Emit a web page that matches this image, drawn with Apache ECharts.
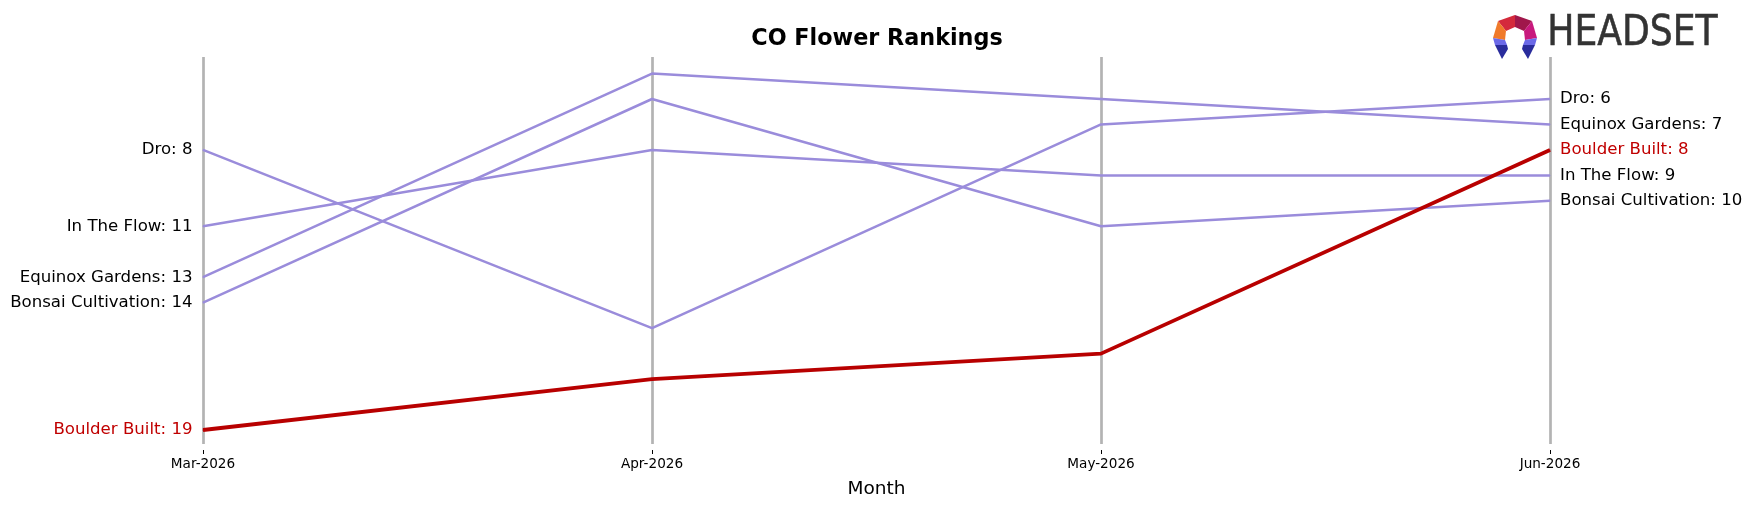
<!DOCTYPE html>
<html>
<head>
<meta charset="utf-8">
<script src="https://cdn.jsdelivr.net/npm/echarts@6/dist/echarts.min.js"></script>
<style>
  html, body { margin: 0; padding: 0; background: #fff; }
  #chart { width: 1753px; height: 507px; }
</style>
</head>
<body>
<div id="chart"></div>
<script>
// months on the x axis
var months = ["Mar-2026", "Apr-2026", "May-2026", "Jun-2026"];

// rank per month (1 = best)
var dro = [8, 15, 7, 6];
var inTheFlow = [11, 8, 9, 9];
var equinoxGardens = [13, 5, 6, 7];
var bonsaiCultivation = [14, 6, 11, 10];
var boulderBuilt = [19, 17, 16, 8];

var purple = "#9a8cdb";
var red = "#b80000";
var labelFont = "DejaVu Sans";

// one line per brand, name + rank printed on both ends
function makeSeries(name, values, lineColor, textColor, width, z) {
  var last = values[values.length - 1];
  return {
    name: name,
    type: "line",
    z: z,
    symbol: "circle",
    symbolSize: 1,
    itemStyle: { color: lineColor },
    lineStyle: { color: lineColor, width: width },
    data: values.map(function (v, i) {
      if (i === 0) {
        return {
          value: v,
          label: {
            show: true,
            position: "left",
            distance: 10,
            formatter: name + ": " + v,
            color: textColor,
            fontFamily: labelFont,
            fontSize: 16.6,
          },
        };
      }
      return v;
    }),
    endLabel: {
      show: true,
      distance: 10,
      formatter: name + ": " + last,
      color: textColor,
      fontFamily: labelFont,
      fontSize: 16.6,
    },
  };
}

var chart = echarts.init(document.getElementById("chart"), null, { renderer: "canvas" });

var option = {
  animation: false,
  backgroundColor: "#fff",
  title: {
    text: "CO Flower Rankings",
    left: 872,
    top: 23,
    textAlign: "center",
    textStyle: {
      fontFamily: labelFont,
      fontWeight: "bold",
      fontSize: 22.3,
      color: "#000",
    },
  },
  grid: {
    left: 203,
    right: 203,
    top: 57,
    bottom: 63,
    outerBoundsMode: "none",
    containLabel: false,
  },
  xAxis: {
    type: "category",
    data: months,
    boundaryGap: false,
    offset: 6,
    name: "Month",
    nameLocation: "middle",
    nameGap: 30,
    nameTextStyle: { fontFamily: labelFont, fontSize: 18.5, color: "#000" },
    axisLine: { show: false },
    axisTick: { show: true, length: 4, lineStyle: { color: "#000", width: 1 } },
    axisLabel: { fontFamily: labelFont, fontSize: 13.6, color: "#000", margin: 7 },
    // grey vertical guides at each month
    splitLine: { show: true, lineStyle: { color: "#b3b3b3", width: 2.7 } },
  },
  yAxis: {
    type: "value",
    inverse: true,
    min: 4.35,
    max: 19.55,
    show: false,
    splitLine: { show: false },
  },
  series: [
    makeSeries("Dro", dro, purple, "#000", 2.5, 2),
    makeSeries("In The Flow", inTheFlow, purple, "#000", 2.5, 2),
    makeSeries("Equinox Gardens", equinoxGardens, purple, "#000", 2.5, 2),
    makeSeries("Bonsai Cultivation", bonsaiCultivation, purple, "#000", 2.5, 2),
    makeSeries("Boulder Built", boulderBuilt, red, "#c00000", 3.8, 5),
  ],
  // headset logo, top right
  graphic: [
    {
      type: "group",
      left: 1493,
      top: 15,
      children: [
        { type: "polygon", shape: { points: [[22, 0], [5, 6], [13, 16], [22, 12]] }, style: { fill: "#d42a3c" } },
        { type: "polygon", shape: { points: [[22, 0], [39, 6], [31, 16], [22, 12]] }, style: { fill: "#a0174b" } },
        { type: "polygon", shape: { points: [[5, 6], [0, 23], [12, 25], [13, 16]] }, style: { fill: "#f07a2a" } },
        { type: "polygon", shape: { points: [[39, 6], [44, 23], [32, 25], [31, 16]] }, style: { fill: "#c8197d" } },
        { type: "polygon", shape: { points: [[0, 23], [12, 25], [14, 30], [2, 30]] }, style: { fill: "#6b69e8" } },
        { type: "polygon", shape: { points: [[2, 30], [14, 30], [15, 34], [9, 44]] }, style: { fill: "#2a2c9c" } },
        { type: "polygon", shape: { points: [[44, 23], [32, 25], [30, 30], [42, 30]] }, style: { fill: "#6b69e8" } },
        { type: "polygon", shape: { points: [[42, 30], [30, 30], [29, 34], [35, 44]] }, style: { fill: "#2a2c9c" } },
      ],
    },
    {
      type: "text",
      left: 1547,
      top: 12,
      scaleX: 0.84,
      style: {
        text: "HEADSET",
        fontFamily: labelFont,
        fontSize: 43,
        fill: "#333",
        stroke: "#333",
        lineWidth: 0.6,
      },
    },
  ],
};

chart.setOption(option);
</script>
</body>
</html>
